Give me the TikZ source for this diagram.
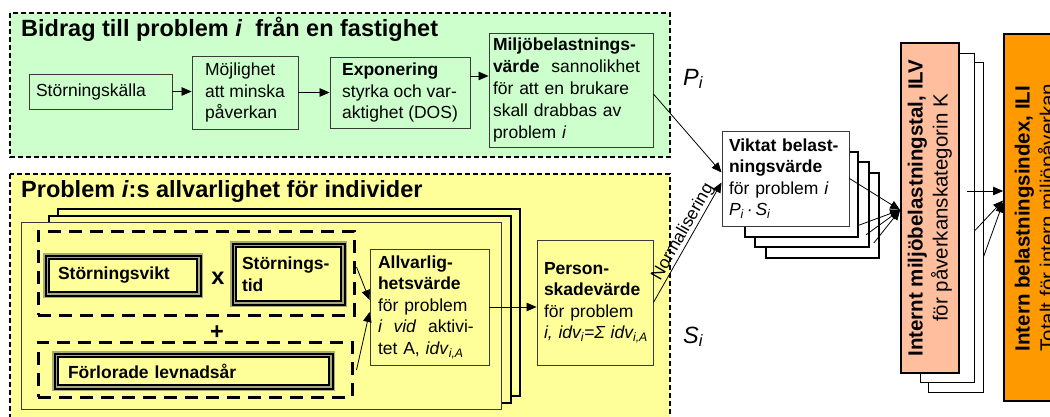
\documentclass[tikz,border=0pt]{standalone}
\usepackage{fontspec}
\setmainfont{Liberation Sans}
\usetikzlibrary{arrows.meta,calc}

\definecolor{grn}{HTML}{CCFFCC}
\definecolor{ylw}{HTML}{FFFF99}
\definecolor{salmon}{HTML}{FFBF9F}
\definecolor{orng}{HTML}{FF9900}
\definecolor{khaki}{HTML}{A8A878}
\definecolor{edge}{HTML}{3A3A3A}

\newcommand\bodysize{\fontsize{17.5}{21.5}\selectfont}
\newcommand\titlesize{\fontsize{23.5}{27}\selectfont}
\newcommand\sidesize{\fontsize{20.5}{25}\selectfont}
\newcommand\symsize{\fontsize{23.5}{27}\selectfont}

\begin{document}
\begin{tikzpicture}[x=1pt,y=-1pt,
  region/.style={draw=black, line width=1.4pt, dash pattern=on 5pt off 3pt},
  card/.style={draw=edge, line width=0.9pt, fill=#1, inner sep=0pt, align=left, font=\bodysize},
  backcard/.style={draw=black, line width=#1, fill=white, inner sep=0pt},
  group/.style={draw=black, line width=3pt, dash pattern=on 13pt off 8pt, inner sep=0pt},
  triple/.style={draw=black, line width=2pt, double=khaki, double distance=1.5pt,
    preaction={draw=khaki, line width=8.5pt}, fill=ylw, inner sep=0pt,
    align=left, font=\bodysize\bfseries},
  arr/.style={-{Triangle[length=10pt,width=8.5pt]}, line width=0.8pt},
]
\useasboundingbox (0,0) rectangle (1050,416);
\clip (0,0) rectangle (1050,416);

% ---------- contribution from one property (green) ----------
\draw[region, fill=grn] (10,13) rectangle (670,157);
\node[anchor=base west, inner sep=0pt, font=\titlesize\bfseries] (gtitle) at (21,36)
  {Bidrag till problem \textit{i}\ \ från en fastighet};

\node[card=grn, minimum width=143pt, minimum height=35pt, text width=129pt] (src) at (100.5,91.5)
  {Störningskälla};
\node[card=grn, minimum width=106pt, minimum height=73pt] (mojl) at (245,92.5)
  {Möjlighet\\att minska\\påverkan};
\node[card=grn, minimum width=140pt, minimum height=71pt] (expo) at (400,92.5)
  {\textbf{Exponering}\\styrka och var-\\aktighet (DOS)};
\node[card=grn, minimum width=164pt, minimum height=114pt, text width=156pt,
      font=\fontsize{17.5}{21.8}\selectfont] (milj) at (571,90)
  {\textbf{Miljöbelastnings-}\\\textbf{värde}\ \ sannolikhet\\för att en brukare\\skall drabbas av\\problem \textit{i}};

\draw[arr] (src.east) -- (src.east -| mojl.west);
\draw[arr] (mojl.east) -- (mojl.east -| expo.west);
\draw[arr] ($(expo.north east)!0.27!(expo.south east)$) coordinate (eo) -- (eo -| milj.west);

% ---------- severity for individuals (yellow) ----------
\draw[region, fill=ylw] (10,174) rectangle (670,420);
\node[anchor=base west, inner sep=0pt, font=\titlesize\bfseries] (ytitle) at (21,197)
  {Problem \textit{i}:s allvarlighet för individer};

\draw[line width=1.6pt, fill=ylw] (58,209) rectangle (520,396);
\draw[line width=1.6pt, fill=ylw] (49,216) rectangle (511,403);
\draw[draw=edge, line width=0.9pt, fill=ylw] (21,222) rectangle (501,409);

\node[group, minimum width=316pt, minimum height=84pt] (grp1) at (196,273) {};
\node[group, minimum width=314pt, minimum height=55pt] (grp2) at (195,369.5) {};

\node[triple, minimum width=151.5pt, minimum height=36.5pt, text width=130pt] (svikt) at (123,275.5)
  {Störningsvikt};
\node[triple, minimum width=108.5pt, minimum height=57.5pt, text width=93pt] (stid) at (288.5,274)
  {Störnings-\\tid};
\node[triple, minimum width=274.5pt, minimum height=31.5pt, text width=251pt] (lev) at (193.5,371)
  {Förlorade levnadsår};
\node[font=\symsize\bfseries, inner sep=0pt] (times) at (218,278) {x};
\node[font=\symsize\bfseries, inner sep=0pt] (plus) at (217,333) {+};

\node[card=ylw, minimum width=119pt, minimum height=116pt, text width=103pt] (allv) at (429.5,307)
  {\textbf{Allvarlig-}\\\textbf{hetsvärde}\\för problem\\\textit{i\ \ vid}\ \ aktivi-\\tet A, \textit{idv}\textsubscript{\textit{i,A}}};
\node[card=ylw, minimum width=116pt, minimum height=125pt, text width=102pt] (pers) at (595,302.5)
  {\textbf{Person-}\\\textbf{skadevärde}\\för problem\\\mbox{\textit{i, idv\textsubscript{i}=Σ idv\textsubscript{i,A}}}};

\draw[arr] ($(grp1.east)+(1,-6)$) -- ($(allv.west)+(0,-7)$);
\draw[arr] ($(grp2.east)+(3,0.5)$) -- ($(allv.west)+(0,5)$);
\draw[arr] (allv.east) -- (allv.east -| pers.west);

% ---------- weighted load value ----------
\node[backcard=1.8pt, minimum width=113pt, minimum height=85pt] (vb3) at (822.5,215.5) {};
\node[backcard=1.8pt, minimum width=114pt, minimum height=85pt] (vb2) at (812,204.5) {};
\node[backcard=1.3pt, minimum width=113pt, minimum height=85pt] (vb1) at (801.5,194.5) {};
\node[card=white, minimum width=127pt, minimum height=95pt, text width=113pt] (vikt) at (785.5,178.5)
  {\textbf{Viktat belast-}\\\textbf{ningsvärde}\\för problem \textit{i}\\\textit{P\textsubscript{i}\,·\,S\textsubscript{i}}};

\draw[arr] ($(milj.east)+(0,4)$) -- ($(vikt.west)+(0,-6)$);
\draw[arr] (pers.east) -- node[sloped, above, inner sep=0.5pt, pos=0.55, font=\fontsize{17.5}{19}\selectfont] {Normalisering}
  ($(vikt.west)+(0,4)$);

\node[anchor=base west, inner sep=0pt, font=\fontsize{23.5}{27}\selectfont\itshape] (pi) at (683,85)
  {P\textsubscript{i}};
\node[anchor=base west, inner sep=0pt, font=\fontsize{23.5}{27}\selectfont\itshape] (si) at (683,343)
  {S\textsubscript{i}};

% ---------- internal load numbers and index ----------
\node[backcard=0.9pt, minimum width=55pt, minimum height=330pt] (ilvb2) at (955.5,227) {};
\node[backcard=0.9pt, minimum width=54pt, minimum height=329pt] (ilvb1) at (947,217.5) {};
\node[draw=black, line width=1.8pt, fill=salmon, inner sep=0pt, minimum width=58pt, minimum height=330pt] (ilv) at (930,208)
  {\rotatebox{90}{\sidesize\begin{tabular}{@{}c@{}}\textbf{Internt miljöbelastningstal, ILV}\\för påverkanskategorin K\end{tabular}}};
\node[draw=black, line width=1.8pt, fill=orng, inner sep=0pt, minimum width=66pt, minimum height=367pt] (ili) at (1037,217.5)
  {\rotatebox{90}{\sidesize\begin{tabular}{@{}l@{}}\textbf{Intern belastningsindex, ILI}\\Totalt för intern miljöpåverkan\end{tabular}}};

\draw[arr] (vikt.east) -- ($(ilv.west)+(0,2)$);
\draw[arr] ($(vb1.south east)+(-1,-12)$) -- ($(ilv.west)+(0,2)$);
\draw[arr] ($(vb2.south east)+(-4,-13)$) -- ($(ilv.west)+(0,2)$);
\draw[arr] ($(vb3.south east)+(-6,-16)$) -- ($(ilv.west)+(0,2)$);

\draw[arr] ($(ilv.east)+(7,-17)$) coordinate (io) -- (io -| ili.west);
\draw[arr] ($(ilvb1.east)+(0,13.5)$) -- ($(ili.west)+(0,-17)$);
\draw[arr] ($(ilvb2.east)+(0,30)$) -- ($(ili.west)+(0,-15)$);
\end{tikzpicture}
\end{document}
